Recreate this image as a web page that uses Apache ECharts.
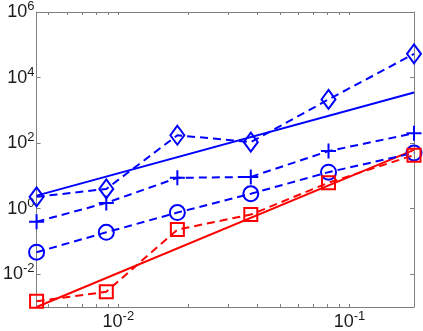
<!DOCTYPE html>
<html>
<head>
<meta charset="utf-8">
<script src="https://cdn.jsdelivr.net/npm/echarts@6/dist/echarts.min.js"></script>
<style>
  html, body { margin: 0; padding: 0; background: #fff; }
  #chartBox { width: 423px; height: 331px; }
</style>
</head>
<body>
<div id="chartBox"></div>
<script>
// step sizes (x) and errors (y)
const hValues = [0.00443, 0.00887, 0.0180, 0.0374, 0.0811, 0.19]
const diamondErr = [2.3, 4.0, 174, 107, 2150, 53000]
const plusErr = [0.40, 1.5, 8.7, 9.3, 57, 200]
const circleErr = [0.047, 0.19, 0.76, 2.85, 13, 50]
const squareErr = [0.0015, 0.0029, 0.23, 0.66, 6.2, 43]
// reference slopes, endpoints only
const refBlueX = [0.00443, 0.19]
const refBlueY = [2.5, 3500]
const refRedX = [0.00443, 0.19]
const refRedY = [0.001, 62]

const xMajor = [-2, -1]
const yMajor = [-2, 0, 2, 4, 6]
// minor ticks 2..9 x 10^k inside the x range
const xMinorRaw = [0.005, 0.006, 0.007, 0.008, 0.009, 0.01, 0.02, 0.03, 0.04, 0.05, 0.06, 0.07, 0.08, 0.09, 0.1]

const lg = v => Math.log10(v)
const pairs = (xs, ys) => xs.map((x, i) => [lg(x), lg(ys[i])])

const xMin = lg(hValues[0])
const xMax = lg(hValues[hValues.length - 1])

const supLabel = v => '{b|10}{s|' + v + '}'
const labelRich = {
  b: { fontSize: 18, color: '#1a1a1a', fontFamily: 'Liberation Sans' },
  s: { fontSize: 13, color: '#1a1a1a', fontFamily: 'Liberation Sans', padding: [0, 0, 11, 0] }
}
const axisGray = '#808080'
const lineOpts = { show: true, onZero: false, lineStyle: { color: axisGray, width: 1 } }

function dashed (name, data, color, symbol, size) {
  return {
    name: name,
    type: 'line',
    data: data,
    symbol: symbol,
    symbolSize: size,
    clip: false,
    lineStyle: { color: color, width: 2, type: [8, 5] },
    itemStyle: { color: 'rgba(0,0,0,0)', borderColor: color, borderWidth: 2 },
    z: 3
  }
}

let myChart = echarts.init(document.getElementById('chartBox'))
myChart.setOption({
  animation: false,
  grid: { left: 35, right: 9, top: 11, bottom: 22 },
  xAxis: [
    {
      type: 'value',
      min: xMin,
      max: xMax,
      axisLine: lineOpts,
      splitLine: { show: false },
      axisTick: { inside: true, length: 3, lineStyle: { color: axisGray }, customValues: xMinorRaw.map(lg) },
      axisLabel: {
        customValues: xMajor,
        margin: 3,
        fontSize: 18,
        formatter: v => supLabel(Math.round(v)),
        rich: labelRich
      }
    },
    {
      type: 'value',
      position: 'top',
      min: xMin,
      max: xMax,
      axisLine: lineOpts,
      splitLine: { show: false },
      axisTick: { inside: true, length: 3, lineStyle: { color: axisGray }, customValues: xMinorRaw.map(lg) },
      axisLabel: { show: false }
    }
  ],
  yAxis: [
    {
      type: 'value',
      min: -3,
      max: 6,
      axisLine: lineOpts,
      splitLine: { show: false },
      axisTick: { inside: true, length: 4, lineStyle: { color: axisGray }, customValues: yMajor },
      axisLabel: {
        customValues: yMajor,
        margin: 2,
        fontSize: 18,
        formatter: v => supLabel(Math.round(v)),
        rich: labelRich
      }
    },
    {
      type: 'value',
      position: 'right',
      min: -3,
      max: 6,
      axisLine: lineOpts,
      splitLine: { show: false },
      axisTick: { inside: true, length: 4, lineStyle: { color: axisGray }, customValues: yMajor },
      axisLabel: { show: false }
    }
  ],
  series: [
    {
      name: 'slope 2',
      type: 'line',
      data: pairs(refBlueX, refBlueY),
      symbol: 'none',
      clip: false,
      lineStyle: { color: '#0000ff', width: 2 }
    },
    {
      name: 'slope 3',
      type: 'line',
      data: pairs(refRedX, refRedY),
      symbol: 'none',
      clip: false,
      lineStyle: { color: '#ff0000', width: 2 }
    },
    dashed('diamond', pairs(hValues, diamondErr), '#0000ff', 'diamond', [14, 19]),
    dashed('plus', pairs(hValues, plusErr), '#0000ff', 'path://M0,5L10,5M5,0L5,10', 15),
    dashed('circle', pairs(hValues, circleErr), '#0000ff', 'circle', 15),
    dashed('square', pairs(hValues, squareErr), '#ff0000', 'rect', 13)
  ]
})
</script>
</body>
</html>
